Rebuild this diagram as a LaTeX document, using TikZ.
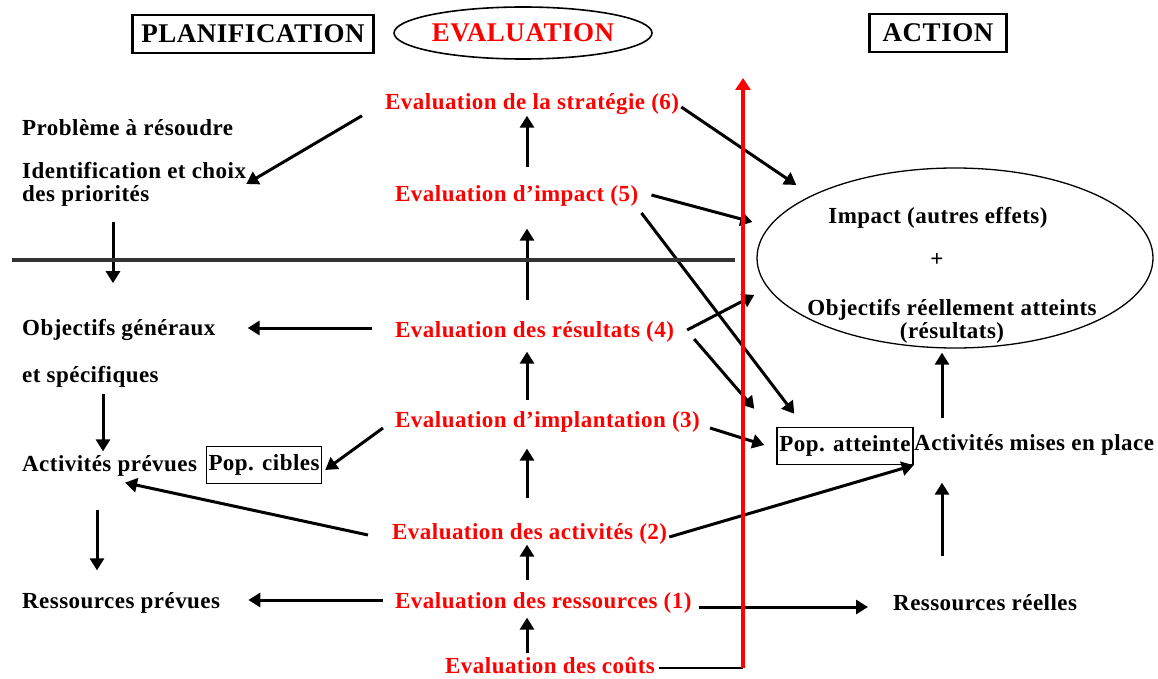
\documentclass[tikz,border=0pt]{standalone}
\usepackage{fontspec}
\setmainfont{Liberation Serif}[LetterSpace=2.0]
\usetikzlibrary{shapes.geometric, arrows.meta, calc}
\definecolor{evalred}{HTML}{FF0000}
\definecolor{sepgray}{HTML}{333333}
\newcommand{\txtsize}{\fontsize{23}{23}\selectfont\bfseries}
\newcommand{\hdsize}{\fontsize{27}{28}\selectfont\bfseries}

\begin{document}
\begin{tikzpicture}[
    x=1pt, y=-1pt, % one unit = one pixel of the layout, y pointing down
    every node/.style={font=\txtsize, inner sep=0pt},
    plan/.style={anchor=west, align=left},
    evalnode/.style={anchor=west, text=evalred},
    head/.style={draw, line width=2.2pt, font=\hdsize, minimum height=38pt},
    popbox/.style={draw, line width=1.4pt, minimum height=37pt},
    arr/.style={-{Triangle[length=12pt, width=14pt]}, line width=3pt},
    axisarr/.style={-{Triangle[length=12pt, width=15pt]}, line width=3.8pt, evalred},
]
\useasboundingbox (0,0) rectangle (1158,679);

% Headers
\node[head, minimum width=241pt] (planif) at (253,34) {PLANIFICATION};
\node[ellipse, draw, line width=1.6pt, minimum width=240pt, minimum height=52pt,
    font=\hdsize, text=evalred] (evalh) at (523,33) {EVALUATION};
\node[head, minimum width=137pt] (actionh) at (938,33) {ACTION};

% Planification column
\node[plan] (prob) at (22,128) {Problème à résoudre};
\node[plan] (ident) at (22,184) {Identification et choix\\des priorités};
\node[plan] (objg) at (22,330) {Objectifs généraux};
\node[plan] (objs) at (22,377) {et spécifiques};
\node[plan] (actp) at (22,466) {Activités prévues};
\node[popbox, minimum width=115pt] (popc) at (264,465) {Pop. cibles};
\node[plan] (resp) at (22,603) {Ressources prévues};

% Evaluation column
\node[evalnode] (estrat) at (385,104) {Evaluation de la stratégie (6)};
\node[evalnode] (eimpact) at (395,196) {Evaluation d'impact (5)};
\node[evalnode] (eresult) at (395,332) {Evaluation des résultats (4)};
\node[evalnode] (eimpl) at (395,422) {Evaluation d'implantation (3)};
\node[evalnode] (eactiv) at (392,534) {Evaluation des activités (2)};
\node[evalnode] (eress) at (395,603) {Evaluation des ressources (1)};
\node[evalnode] (ecout) at (445,666) {Evaluation des coûts};

% Action column
\node[ellipse, draw, line width=1.3pt, minimum width=396pt, minimum height=180pt]
    (atteint) at (955,258) {};
\node (impct) at (938,218) {Impact (autres effets)};
\node (plus) at (937,260) {+};
\node[align=center] (objr) at (952,321) {Objectifs réellement atteints\\(résultats)};
\node[popbox, minimum width=136pt] (popa) at (845,446) {Pop. atteinte};
\node[anchor=west] (actm) at (914,445) {Activités mises en place};
\node[anchor=west] (resr) at (893,603) {Ressources réelles};

\coordinate (vcol) at (527,0);
\coordinate (rcol) at (942,0);
\coordinate (sepL) at (12,260);
\coordinate (sepR) at (735,260);
\coordinate (axbot) at (743,668);
\coordinate (axtop) at (743,78);

% Left column
\draw[arr] ($(ident.south west)+(91,16)$) -- ($(objg.north west)+(91,-36)$);
\draw[arr] ($(objs.south west)+(81,6)$) -- ($(actp.north west)+(81,-4)$);
\draw[arr] ($(actp.south west)+(75,33)$) -- ($(resp.north west)+(75,-22)$);

% Evaluation chain
\foreach \lo/\hi/\a/\b in {ecout/eress/5pt/4pt, eress/eactiv/12pt/0pt,
    eactiv/eimpl/25pt/16pt, eimpl/eresult/11pt/9pt,
    eresult/eimpact/21pt/22pt, eimpact/estrat/18pt/1pt}
  \draw[arr, shorten <=\a, shorten >=\b] (\lo.north -| vcol) -- (\hi.south -| vcol);

% Right column
\draw[arr, shorten <=16pt, shorten >=4pt] (actm.north -| rcol) -- (atteint.south -| rcol);
\draw[arr, shorten <=39pt, shorten >=27pt] (resr.north -| rcol) -- (actm.south -| rcol);

% Towards planification
\draw[arr] ($(estrat.south west)+(-23,1)$) -- (ident.east);
\draw[arr] ($(eresult.west)+(-23,-4)$) -- ($(objg.east)+(32,-2)$);
\draw[arr] ($(eimpl.west)+(-12,6)$) -- ($(popc.east)+(3,5)$);
\draw[arr] ($(eactiv.west)+(-24,1)$) -- ($(actp.south west)+(103,6)$);
\draw[arr] ($(eress.west)+(-12,-3)$) -- ($(resp.east)+(28,-3)$);

% Towards action
\draw[arr] ($(estrat.east)+(2,3)$) -- ($(atteint.west)+(40,-73)$);
\draw[arr] ($(eimpact.east)+(13,-1)$) -- ($(atteint.west)+(-4,-36)$);
\draw[arr] ($(eimpact.east)+(3,17)$) -- ($(popa.north west)+(18,-13)$);
\draw[arr] ($(eresult.east)+(13,-2)$) -- ($(atteint.west)+(-2,37)$);
\draw[arr] ($(eresult.east)+(20,7)$) -- ($(popa.north west)+(-22,-18)$);
\draw[arr] ($(eimpl.east)+(10,6)$) -- ($(popa.west)+(-12,-1)$);
\draw[arr] ($(eactiv.east)+(2,3)$) -- (popa.south east);
\draw[arr] ($(eress.east)+(7,4)$) -- ($(resr.west)+(-25,4)$);

% Separator and time axis
\draw[line width=3.5pt, sepgray] (sepL) -- (sepR);
\draw[line width=1.6pt] ($(ecout.east)+(4,2)$) -- (axbot);
\draw[axisarr] (axbot) -- (axtop);

\end{tikzpicture}
\end{document}
